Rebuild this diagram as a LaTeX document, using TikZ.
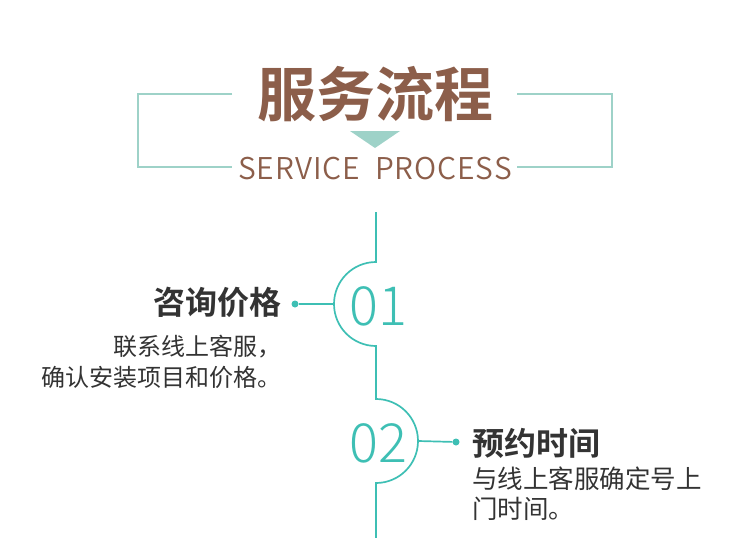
\documentclass[tikz,border=0pt]{standalone}
\usepackage{fontspec}
\setmainfont{Noto Sans CJK SC}[BoldFont={Noto Sans CJK SC Bold}]
\newfontfamily\thinfont{Noto Sans CJK SC Light}
\newfontfamily\capsfont{Noto Sans CJK SC DemiLight}[LetterSpace=3]
\usetikzlibrary{positioning}
\definecolor{sp_brown}{RGB}{140,94,74}
\definecolor{sp_teal}{RGB}{62,191,180}
\definecolor{sp_mint}{RGB}{158,210,200}
\definecolor{sp_grey}{RGB}{51,51,51}
\tikzset{
	sp_title/.style = {inner sep=0pt, text=sp_brown},
	sp_frame/.style = {draw=sp_mint, line width=2.6pt},% cadre du titre
	sp_line/.style = {draw=sp_teal, line width=1.7pt},% ligne des etapes
	sp_dot/.style = {circle, fill=sp_teal, inner sep=0pt, minimum size=7pt},
	sp_num/.style = {inner sep=0pt, text=sp_teal, font=\thinfont\fontsize{54}{54}\selectfont},
	sp_head/.style = {inner sep=0pt, text=sp_grey, font=\bfseries\fontsize{32}{32}\selectfont},
	sp_text/.style = {inner sep=0pt, text=sp_grey, font=\fontsize{24}{31}\selectfont}
}
\begin{document}
\begin{tikzpicture}[x=1pt,y=-1pt]
	\useasboundingbox (0,0) rectangle (750,538);
	% titre
	\node [sp_title, font=\bfseries\fontsize{59}{59}\selectfont] (title) at (375,94) {服务流程};
	\node [sp_title, font=\capsfont\fontsize{30}{30}\selectfont] (subtitle) at (375,169) {SERVICE\ \ PROCESS};
	\draw [sp_frame] (232,94) -| (138,167) -- (232,167);
	\draw [sp_frame] (517,94) -| (612,167) -- (517,167);
	\fill [sp_mint] (350,131) -- (400,131) -- (375,148) -- cycle;
	% etapes
	\coordinate (top) at (376,212);
	\coordinate (bot) at (376,538);
	\draw [sp_line] (top) -- (376,262) arc[start angle=-90, end angle=-270, radius=42]
		-- (376,399) arc[start angle=-90, end angle=90, radius=42] -- (bot);
	\coordinate (arc1) at (334,304);
	\coordinate (arc2) at (418,441);
	\node [sp_num] (n1) at (378,306) {01};
	\node [sp_num] (n2) at (378,443) {02};
	\node [sp_dot] (d1) at (295,304) {};
	\node [sp_dot] (d2) at (456,442) {};
	\draw [sp_line] (d1) -- (arc1);
	\draw [sp_line] (arc2) -- (d2);
	\node [sp_head, anchor=east] (h1) at (282,302) {咨询价格};
	\node [sp_text, align=right, below left=17pt and 0pt of h1.south east] (t1) {联系线上客服，\\确认安装项目和价格。};
	\node [sp_head, anchor=west] (h2) at (472,443) {预约时间};
	\node [sp_text, font=\fontsize{25.5}{30}\selectfont, align=left, below right=8pt and 0pt of h2.south west] (t2) {与线上客服确定号上\\门时间。};
\end{tikzpicture}
\end{document}
